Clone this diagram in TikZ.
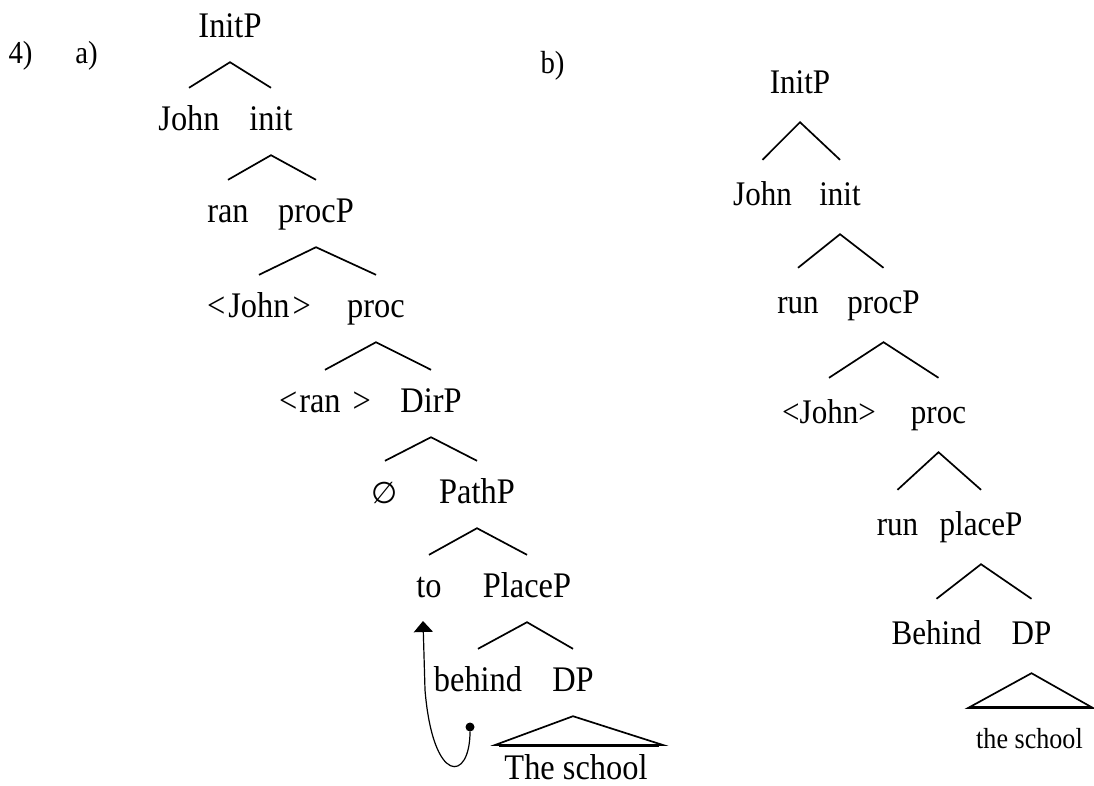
\documentclass[tikz,border=0pt]{standalone}
\usepackage{fontspec}
\setmainfont[FakeStretch=0.9]{Liberation Serif}
\newfontfamily\symfont{DejaVu Sans}
\usetikzlibrary{arrows.meta}

\begin{document}
\begin{tikzpicture}[x=1pt,y=-1pt,
  lnode/.style={anchor=base, inner xsep=0pt, inner ysep=18pt,
    text height=24pt, text depth=7pt, font=\fontsize{36}{43}\selectfont},
  rnode/.style={anchor=base, inner xsep=0pt, inner ysep=22pt,
    text height=23pt, text depth=7pt, font=\fontsize{34.5}{41}\selectfont},
  label/.style={anchor=base, inner sep=0pt, font=\fontsize{32}{38}\selectfont},
  branch/.style={line width=1.7pt, line join=miter},
  movement/.style={line width=1.2pt, -{Triangle[width=19pt,length=11pt]}}]
\useasboundingbox (0,0) rectangle (1094,785);

% example labels
\node[label] (n4) at (20.5,63) {4)};
\node[label] (na) at (86.5,63) {a)};
\node[label] (nb) at (552.5,73) {b)};

% ---------- tree (a) ----------
\node[lnode] (aInitP)  at (230,37)  {InitP};
\node[lnode] (aJohn)   at (189,130) {John};
\node[lnode] (ainit)   at (271,130) {init};
\node[lnode] (aran)    at (228,222) {ran};
\node[lnode] (aprocP)  at (316,222) {procP};
\node[lnode] (atJohn)  at (259,317) {<\hspace{3pt}John\hspace{3pt}>};
\node[lnode] (aproc)   at (376,317) {proc};
\node[lnode] (atran)   at (325,412) {<\hspace{2pt}ran\hspace{12pt}>};
\node[lnode] (aDirP)   at (431,412) {DirP};
\node[lnode] (anull)   at (385,503) {{\symfont\fontsize{30}{36}\selectfont ∅}};
\node[lnode] (aPathP)  at (477,503) {PathP};
\node[lnode] (ato)     at (429,597) {to};
\node[lnode] (aPlaceP) at (527,597) {PlaceP};
\node[lnode] (abehind) at (478,691) {behind};
\node[lnode] (aDP)     at (573,691) {DP};
\node[anchor=base, inner sep=0pt, font=\fontsize{36}{43}\selectfont] (aschool) at (576,779) {The school};

\draw[branch] (aJohn.north) -- (aInitP.south) -- (ainit.north);
\draw[branch] (aran.north) -- (ainit.south) -- (aprocP.north);
\draw[branch] (atJohn.north) -- (aprocP.south) -- (aproc.north);
\draw[branch] (atran.north) -- (aproc.south) -- (aDirP.north);
\draw[branch] (anull.north) -- (aDirP.south) -- (aPathP.north);
\draw[branch] (ato.north) -- (aPathP.south) -- (aPlaceP.north);
\draw[branch] (abehind.north) -- (aPlaceP.south) -- (aDP.north);

% roof over "The school"
\coordinate (atl) at (495,745);
\coordinate (atr) at (663,745);
\draw[branch] (atl) -- (aDP.south) -- (atr) -- cycle;
\draw[line width=1pt] (atl) ++(4,1.5) -- ++(160,0);

% movement of the preposition
\node[circle, fill, inner sep=0pt, minimum size=9pt] (adot) at (470,727) {};
\coordinate (atip) at (423,621);
\draw[movement] (adot.south) .. controls (470,782) and (433,786) .. (425,690) -- (atip);

% ---------- tree (b) ----------
\node[rnode] (bInitP)  at (800,93)    {InitP};
\node[rnode] (bJohn)   at (762.5,205) {John};
\node[rnode] (binit)   at (840,205)   {init};
\node[rnode] (brun)    at (798,313)   {run};
\node[rnode] (bprocP)  at (883.5,313) {procP};
\node[rnode] (btJohn)  at (829,423)   {<John>};
\node[rnode] (bproc)   at (938.5,423) {proc};
\node[rnode] (brunb)   at (897.5,535) {run};
\node[rnode] (bplaceP) at (981,535)   {placeP};
\node[rnode] (bBehind) at (936.5,644) {Behind};
\node[rnode] (bDP)     at (1031.5,644) {DP};
\node[anchor=base, inner sep=0pt, font=\fontsize{29}{35}\selectfont] (bschool) at (1029.5,748) {the school};

\draw[branch] (bJohn.north) -- (bInitP.south) -- (binit.north);
\draw[branch] (brun.north) -- (binit.south) -- (bprocP.north);
\draw[branch] (btJohn.north) -- (bprocP.south) -- (bproc.north);
\draw[branch] (brunb.north) -- (bproc.south) -- (bplaceP.north);
\draw[branch] (bBehind.north) -- (bplaceP.south) -- (bDP.north);

% roof over "the school"
\coordinate (btl) at (968,708);
\coordinate (btr) at (1093,708);
\draw[branch] (btl) -- (bDP.south) -- (btr) -- cycle;
\draw[line width=1pt] (btl) ++(4,-1.5) -- ++(117,0);
\end{tikzpicture}
\end{document}
